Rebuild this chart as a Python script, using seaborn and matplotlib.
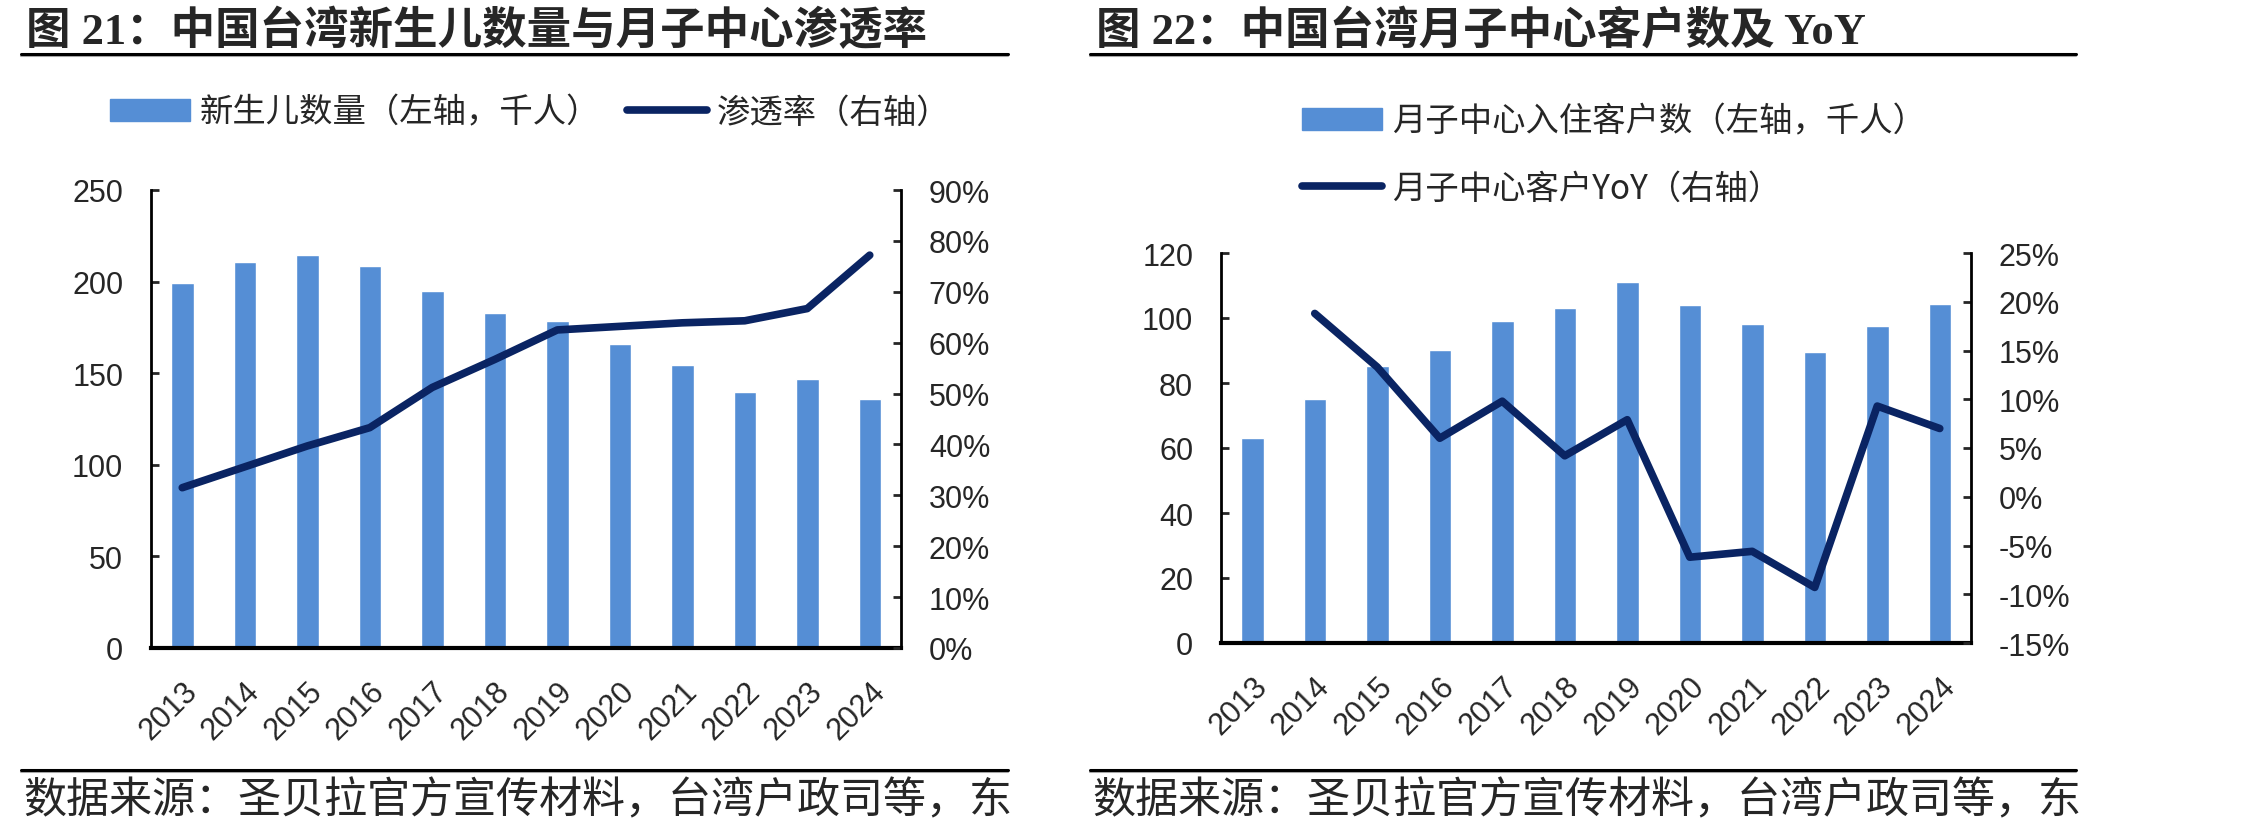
import numpy as np
import pandas as pd
import matplotlib
matplotlib.use("Agg")
import matplotlib.pyplot as plt
import seaborn as sns
from matplotlib.lines import Line2D
from matplotlib.ticker import PercentFormatter, MultipleLocator, FixedLocator

# 데이터
years = [2013, 2014, 2015, 2016, 2017, 2018, 2019, 2020, 2021, 2022, 2023, 2024]
births = [199.5, 210.5, 214.4, 208.4, 194.7, 182.7, 178.4, 165.8, 154.4, 139.6, 146.7, 135.8]
penetration = [31.5, 35.6, 39.7, 43.3, 51.2, 56.7, 62.5, 63.2, 63.9, 64.3, 66.7, 77.2]
customers = [63.2, 75.1, 85.1, 90.3, 99.2, 103.2, 111.2, 104.1, 98.3, 89.4, 97.6, 104.4]
yoy = [np.nan, 18.8, 13.3, 6.0, 9.8, 4.2, 7.9, -6.2, -5.6, -9.3, 9.3, 7.0]

title_left = "图 21：中国台湾新生儿数量与月子中心渗透率"
title_right = "图 22：中国台湾月子中心客户数及 YoY"
source_text = "数据来源：圣贝拉官方宣传材料，台湾户政司等，东"
bar_label_left = "新生儿数量（左轴，千人）"
line_label_left = "渗透率（右轴）"
bar_label_right = "月子中心入住客户数（左轴，千人）"
line_label_right = "月子中心客户YoY（右轴）"

BAR = "#558ED5"
LINE = "#0A2463"

sns.set_style("white")
plt.rcParams['font.family'] = ['Liberation Sans', 'Noto Sans CJK SC', 'DejaVu Sans']
plt.rcParams['axes.unicode_minus'] = False

df1 = pd.DataFrame({"year": years, "births": births, "pen": penetration})
df2 = pd.DataFrame({"year": years, "cust": customers, "yoy": yoy})

fig = plt.figure(figsize=(22.68, 8.37), dpi=100)
W, H = 2268, 837


def fx(px):
    return px / W


def fy(py):
    return 1 - py / H


def style_axes(ax, ax2):
    for a in (ax, ax2):
        a.spines['top'].set_visible(False)
        for s in ('left', 'right', 'bottom'):
            a.spines[s].set_linewidth(2.0)
            a.spines[s].set_color('black')
    ax.spines['right'].set_visible(False)
    ax2.spines['left'].set_visible(False)
    ax2.spines['bottom'].set_visible(False)
    ax.spines['bottom'].set_linewidth(3.0)
    ax.set_xlim(years[0] - 0.5, years[-1] + 0.5)
    ax.xaxis.set_minor_locator(FixedLocator([y + 0.5 for y in years[:-1]]))
    ax.set_xticks(years)
    ax.set_xticklabels([str(y) for y in years], rotation=45, ha='right',
                       rotation_mode='anchor', fontsize=22)
    ax.tick_params(axis='x', which='major', length=0, pad=20)
    ax.tick_params(axis='x', which='minor', direction='in', length=6, width=2)
    ax.tick_params(axis='y', direction='in', length=6, width=2, labelsize=22, pad=20, left=True)
    ax2.tick_params(axis='y', direction='in', length=6, width=2, labelsize=22, pad=20, right=True)
    ax.set_xlabel("")
    ax.set_ylabel("")
    ax2.set_xlabel("")
    ax2.set_ylabel("")


# ---- 왼쪽: 신생아 수와 침투율
ax1 = fig.add_axes([fx(151), fy(649), fx(901 - 151), (649 - 191) / H])
sns.barplot(data=df1, x="year", y="births", native_scale=True, color=BAR,
            width=0.36, errorbar=None, saturation=1, ax=ax1)
ax1.set_ylim(0, 250)
ax1.yaxis.set_major_locator(MultipleLocator(50))
ax1b = ax1.twinx()
sns.lineplot(data=df1, x="year", y="pen", color=LINE, linewidth=5.5, ax=ax1b, legend=False)
for l in ax1b.lines:
    l.set_solid_capstyle('round')
ax1b.set_ylim(0, 90)
ax1b.yaxis.set_major_locator(MultipleLocator(10))
ax1b.yaxis.set_major_formatter(PercentFormatter(decimals=0))
style_axes(ax1, ax1b)

# ---- 오른쪽: 고객 수와 YoY
ax2 = fig.add_axes([fx(1221), fy(644), fx(1971 - 1221), (644 - 254) / H])
sns.barplot(data=df2, x="year", y="cust", native_scale=True, color=BAR,
            width=0.36, errorbar=None, saturation=1, ax=ax2)
ax2.set_ylim(0, 120)
ax2.yaxis.set_major_locator(MultipleLocator(20))
ax2b = ax2.twinx()
sns.lineplot(data=df2, x="year", y="yoy", color=LINE, linewidth=5.5, ax=ax2b, legend=False)
for l in ax2b.lines:
    l.set_solid_capstyle('round')
ax2b.set_ylim(-15, 25)
ax2b.yaxis.set_major_locator(MultipleLocator(5))
ax2b.yaxis.set_major_formatter(PercentFormatter(decimals=0))
style_axes(ax2, ax2b)

# ---- 범례
cjk = ['Noto Sans CJK SC', 'DejaVu Sans']
h1 = [plt.Rectangle((0, 0), 1, 1, color=BAR),
      Line2D([], [], color=LINE, linewidth=5.5, solid_capstyle='round')]
fig.legend(h1, [bar_label_left, line_label_left], loc='center',
           bbox_to_anchor=(fx(530), fy(113)), ncol=2, frameon=False,
           prop={'family': cjk, 'size': 24}, handlelength=2.4, handleheight=0.65,
           handletextpad=0.3, columnspacing=0.8, borderpad=0)
fig.legend(h1, [bar_label_right, line_label_right], loc='upper left',
           bbox_to_anchor=(fx(1285), fy(88)), ncol=1, frameon=False,
           prop={'family': cjk, 'size': 24}, handlelength=2.4, handleheight=0.65,
           handletextpad=0.3, labelspacing=0.95, borderpad=0)

# ---- 제목, 구분선, 출처
title_font = ['Liberation Serif', 'Noto Sans CJK SC', 'DejaVu Sans']
fig.text(fx(26), fy(31), title_left, fontsize=32, fontweight='bold',
         family=title_font, va='center', ha='left')
fig.text(fx(1096), fy(31), title_right, fontsize=32, fontweight='bold',
         family=title_font, va='center', ha='left')

for x0, x1 in [(21, 1008), (1090, 2076)]:
    for yy in (55, 771):
        fig.add_artist(Line2D([fx(x0), fx(x1)], [fy(yy + 2), fy(yy + 2)], color='#AAAAAA', linewidth=1.5))
        fig.add_artist(Line2D([fx(x0), fx(x1)], [fy(yy), fy(yy)], color='black', linewidth=2.2))

for x0 in (23, 1092):
    fig.text(fx(x0), fy(801), source_text, fontsize=31, family=cjk, va='center', ha='left')

fig.savefig("out.png", dpi=100)
